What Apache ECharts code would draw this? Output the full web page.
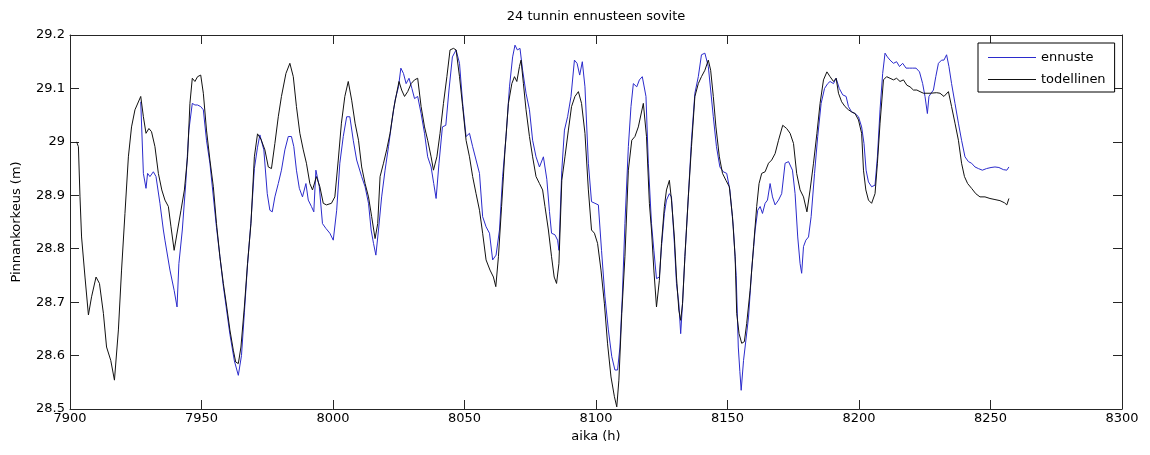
<!DOCTYPE html>
<html>
<head>
<meta charset="utf-8">
<script src="https://cdn.jsdelivr.net/npm/echarts@6/dist/echarts.min.js"></script>
<style>
html,body{margin:0;padding:0;background:#fff;}
#chart{width:1150px;height:455px;}
</style>
</head>
<body>
<div id="chart"></div>
<script>
// ---- data ----
const titleText = '24 tunnin ennusteen sovite';
const xTicks = [7900, 7950, 8000, 8050, 8100, 8150, 8200, 8250, 8300];
const yTicks = [28.5, 28.6, 28.7, 28.8, 28.9, 29.0, 29.1, 29.2];
const seriesNames = ['ennuste', 'todellinen'];

// todellinen (black)
const todX = [7902.5,7903.2,7903.8,7904.4,7905.7,7907.0,7908.2,7909.9,7911.2,7912.7,7913.9,7915.5,7916.9,7918.4,7919.6,7920.9,7922.2,7923.4,7924.7,7926.9,7927.9,7928.9,7930.0,7931.0,7932.3,7933.6,7934.9,
7936.1,7937.4,7938.4,7939.6,7940.9,7942.2,7943.5,7944.7,7945.6,7946.5,7947.5,7948.5,7949.7,7950.7,7951.9,7953.2,7954.5,7955.7,7957.0,7958.3,7959.6,7960.8,7962.1,7963.0,7964.0,7965.0,7966.3,7967.5,7968.8,7970.1,7971.3,7972.6,7974.1,
7975.4,7976.6,7977.9,7979.2,7980.4,7982.1,7983.6,7984.9,7986.1,7987.4,7988.7,7989.9,7991.2,7992.2,7993.7,7995.0,7996.3,7997.5,7999.4,8000.7,8002.0,8003.2,8004.5,8005.8,8007.1,
8008.4,8009.7,8010.9,8012.2,8013.5,8014.7,8016.0,8017.0,8017.9,8019.2,8020.4,8021.7,8023.0,8024.2,8025.1,8026.1,8027.2,8028.4,8029.7,8031.0,8032.2,8033.5,8034.8,8036.0,8037.3,8038.2,8039.5,8040.7,8042.0,8043.3,
8044.5,8045.8,8046.8,8048.1,8049.3,8050.6,8051.9,8053.1,8054.4,8055.7,8056.9,8058.2,8059.7,8061.0,8061.9,8062.9,8064.1,8065.4,8066.7,8068.0,8069.0,8069.9,8070.9,8071.5,8072.4,8073.4,8074.7,8075.9,8077.2,8078.5,8079.7,
8080.6,8081.9,8083.1,8084.1,8085.0,8085.9,8087.0,8088.2,8089.5,8090.7,8092.0,8093.3,8094.5,8095.8,8097.1,8098.3,8099.4,8100.6,8101.9,8103.2,8104.4,8105.7,8107.0,8107.9,8108.7,8109.8,8111.0,8112.3,8113.6,8114.8,8116.1,
8118.0,8119.2,8120.3,8121.1,8122.0,8123.0,8124.1,8124.9,8126.0,8126.8,8127.9,8128.7,8129.8,8130.6,8131.5,8132.2,8132.9,8133.8,8135.1,8136.3,8137.6,8138.9,8140.1,8141.4,8142.7,8143.6,8144.6,8145.6,8146.9,8148.1,8149.4,8150.7,8151.9,
8152.9,8153.5,8154.4,8155.4,8156.4,8157.3,8158.6,8159.9,8161.1,8162.0,8163.0,8164.3,8165.6,8166.8,8168.1,8169.4,8171.0,8172.5,8173.8,8175.1,8176.3,8177.6,8178.9,8180.2,8181.4,8182.7,8184.0,8185.2,8186.5,8187.8,
8189.0,8190.3,8191.3,8192.2,8193.4,8194.7,8196.0,8197.2,8198.5,8199.8,8201.0,8201.7,8202.6,8203.6,8204.8,8206.1,8207.0,8208.0,8209.3,8210.5,8211.8,8213.1,8214.3,8215.6,8216.9,8218.2,8219.4,8220.7,8222.0,8223.2,8224.5,
8227.0,8229.5,8230.8,8232.3,8234.0,8235.2,8236.5,8237.8,8239.0,8240.1,8241.3,8242.8,8244.4,8246.0,8247.9,8249.8,8251.7,8253.6,8255.3,8256.2,8257.0];
const todY = [29.000,28.991,28.897,28.822,28.747,28.676,28.710,28.747,28.735,28.679,28.616,28.591,28.554,28.648,28.760,28.866,28.972,29.028,29.060,29.085,29.047,29.016,29.025,29.019,28.991,28.941,28.910,
28.891,28.879,28.841,28.797,28.835,28.872,28.910,28.972,29.072,29.119,29.113,29.122,29.125,29.091,29.022,28.966,28.916,28.847,28.785,28.735,28.691,28.648,28.610,28.588,28.585,28.616,28.691,28.772,28.847,28.972,29.015,29.005,28.985,
28.953,28.950,28.997,29.047,29.085,29.128,29.147,29.122,29.066,29.016,28.985,28.960,28.922,28.910,28.935,28.916,28.885,28.882,28.885,28.897,28.966,29.035,29.085,29.113,29.078,
29.035,29.003,28.953,28.922,28.897,28.860,28.819,28.847,28.935,28.960,28.985,29.016,29.060,29.091,29.113,29.097,29.085,29.094,29.109,29.116,29.119,29.066,29.028,29.003,28.972,28.947,28.972,29.016,29.072,29.122,
29.172,29.175,29.172,29.122,29.066,29.003,28.972,28.935,28.903,28.872,28.829,28.779,28.760,28.747,28.729,28.785,28.879,28.985,29.072,29.109,29.122,29.113,29.141,29.153,29.109,29.060,29.010,28.972,28.935,28.922,28.910,
28.879,28.835,28.785,28.747,28.735,28.772,28.928,28.972,29.022,29.066,29.085,29.094,29.072,29.016,28.910,28.835,28.829,28.810,28.760,28.697,28.622,28.560,28.523,28.504,28.554,28.679,28.785,28.947,29.003,29.010,29.028,
29.072,29.010,28.885,28.835,28.760,28.691,28.741,28.810,28.879,28.910,28.928,28.891,28.822,28.747,28.685,28.666,28.697,28.785,28.897,28.991,29.085,29.109,29.122,29.134,29.153,29.134,29.085,29.028,28.972,28.941,28.928,28.916,28.860,
28.785,28.679,28.641,28.623,28.626,28.660,28.722,28.804,28.879,28.922,28.941,28.944,28.960,28.966,28.978,29.003,29.031,29.025,29.016,28.997,28.941,28.910,28.897,28.869,28.910,28.960,29.016,29.072,29.116,29.131,
29.122,29.113,29.119,29.091,29.075,29.066,29.060,29.056,29.053,29.041,29.016,28.947,28.910,28.891,28.885,28.903,28.960,29.035,29.116,29.122,29.119,29.116,29.119,29.113,29.116,29.106,29.103,29.097,29.097,29.094,29.091,
29.091,29.092,29.091,29.085,29.094,29.066,29.035,29.003,28.960,28.935,28.922,28.913,28.903,28.897,28.897,28.894,28.892,28.890,28.886,28.882,28.894];

// ennuste (blue)
const ennX = [7926.9,7927.9,7928.9,7929.5,7930.4,7931.7,7932.7,7934.2,7935.5,
7936.1,7938.0,7939.6,7940.7,7941.4,7942.7,7944.0,7945.2,7946.5,7947.5,7948.5,7949.7,7950.7,7951.9,7953.2,7955.7,7958.3,7960.8,7962.5,7964.0,7965.2,7966.3,7967.5,7968.8,7970.1,7971.3,7972.2,
7973.7,7975.0,7976.0,7976.9,7977.9,7979.2,7980.4,7981.7,7983.0,7984.2,7985.1,7986.1,7987.2,7988.4,7989.7,7990.6,7991.8,7992.7,7993.5,7994.8,7996.0,7997.3,7998.8,8000.1,8001.4,8002.6,8003.9,8005.2,8006.4,8007.7,
8009.0,8010.9,8012.2,8013.5,8014.5,8015.4,8016.3,8017.3,8018.5,8019.8,8021.1,8022.3,8023.6,8024.9,8025.8,8026.8,8027.8,8028.9,8030.0,8031.0,8032.2,8033.5,8034.8,8036.0,8037.3,8038.3,8039.2,8040.3,8041.6,8042.9,8044.1,
8045.4,8046.8,8048.1,8049.3,8050.6,8051.9,8053.1,8054.4,8055.7,8056.9,8058.2,8059.5,8060.7,8062.0,8063.3,8064.5,8065.8,8067.1,8068.3,8069.2,8070.1,8071.1,8072.1,8073.4,8074.7,8075.9,8077.2,8078.5,8080.0,
8081.3,8082.3,8083.1,8084.4,8085.4,8085.9,8087.0,8088.0,8089.2,8090.5,8091.8,8092.8,8093.8,8094.8,8095.8,8097.1,8098.3,8099.6,8100.9,8102.1,8103.4,8104.7,8106.0,8107.2,8108.2,8109.1,8110.0,8111.0,8112.3,8113.3,8114.2,8115.5,8116.5,8117.6,
8119.0,8119.9,8121.1,8122.0,8123.0,8124.1,8124.9,8126.0,8126.8,8127.9,8128.7,8129.8,8130.6,8131.5,8132.2,8132.9,8133.8,8135.1,8136.3,8137.6,8138.9,8140.1,8141.4,8142.7,8143.6,8144.6,8145.8,8147.1,8148.4,8149.7,8150.9,8152.2,
8153.3,8154.1,8154.7,8155.2,8156.1,8157.0,8158.0,8159.2,8160.5,8161.5,8162.4,8163.3,8164.3,8165.2,8166.2,8167.1,8168.1,8169.4,8170.6,8171.9,8173.2,8174.7,8175.7,8176.7,8177.6,8178.2,8178.9,8179.8,8180.8,8181.8,8183.1,8184.3,8185.6,8186.9,8188.1,
8189.0,8190.3,8191.3,8192.5,8193.8,8195.1,8196.0,8197.2,8198.5,8199.8,8201.0,8201.9,8202.7,8203.6,8204.8,8206.1,8207.0,8208.0,8209.0,8209.9,8210.8,8211.8,8213.1,8214.3,8215.4,8216.6,8217.9,8219.2,8220.4,8221.7,8223.0,8224.2,8225.1,8226.0,8226.6,8227.4,8228.3,
8229.2,8230.2,8231.4,8232.3,8233.3,8234.2,8235.2,8236.5,8237.8,8239.0,8240.3,8241.6,8242.8,8244.1,8245.4,8246.9,8248.5,8250.2,8251.7,8253.2,8254.9,8256.2,8257.0];
const ennY = [29.075,28.941,28.913,28.941,28.935,28.944,28.935,28.885,28.835,
28.816,28.760,28.722,28.691,28.772,28.835,28.922,29.022,29.072,29.069,29.069,29.066,29.060,29.003,28.960,28.840,28.730,28.640,28.590,28.563,28.600,28.680,28.770,28.850,28.950,28.990,29.013,
28.985,28.903,28.872,28.869,28.897,28.922,28.947,28.985,29.010,29.010,28.991,28.947,28.913,28.897,28.922,28.891,28.879,28.869,28.947,28.916,28.847,28.838,28.829,28.816,28.872,28.960,29.010,29.047,29.047,29.003,
28.966,28.935,28.916,28.885,28.835,28.810,28.788,28.835,28.897,28.947,28.991,29.035,29.078,29.103,29.138,29.128,29.109,29.119,29.100,29.081,29.085,29.053,29.016,28.972,28.953,28.922,28.894,28.960,29.028,29.031,29.097,
29.159,29.172,29.147,29.072,29.010,29.016,28.991,28.966,28.941,28.860,28.841,28.829,28.779,28.788,28.835,28.935,29.010,29.103,29.159,29.181,29.172,29.175,29.134,29.091,29.060,29.003,28.972,28.953,28.972,
28.930,28.870,28.829,28.826,28.816,28.797,28.947,29.022,29.047,29.085,29.153,29.147,29.125,29.150,29.103,28.960,28.888,28.885,28.882,28.797,28.710,28.648,28.598,28.573,28.573,28.616,28.710,28.847,28.991,29.066,29.109,29.103,29.116,29.122,
29.085,28.960,28.847,28.797,28.744,28.747,28.804,28.866,28.891,28.903,28.897,28.810,28.735,28.697,28.641,28.697,28.785,28.897,29.003,29.091,29.122,29.163,29.166,29.141,29.097,29.047,28.991,28.953,28.944,28.941,28.910,28.841,
28.750,28.616,28.570,28.535,28.591,28.629,28.672,28.760,28.835,28.872,28.879,28.866,28.885,28.891,28.922,28.897,28.882,28.891,28.903,28.960,28.963,28.947,28.903,28.822,28.772,28.754,28.804,28.816,28.822,28.860,28.941,29.010,29.072,29.100,29.109,
29.113,29.109,29.119,29.100,29.088,29.085,29.066,29.056,29.053,29.047,29.028,28.997,28.947,28.925,28.916,28.919,28.972,29.060,29.128,29.166,29.159,29.153,29.147,29.150,29.141,29.147,29.138,29.138,29.138,29.138,29.131,29.109,29.085,29.053,29.085,29.091,29.097,
29.122,29.147,29.153,29.153,29.163,29.141,29.109,29.072,29.035,29.003,28.972,28.963,28.960,28.953,28.950,28.947,28.950,28.952,28.953,28.952,28.948,28.947,28.953];

// ---- chart ----
const zip = (xs, ys) => xs.map((x, i) => [x, ys[i]]);
const FONT = 'DejaVu Sans';
const FS = 13;
const axisCol = '#262626';
const blue = '#2b2bcc';
const black = '#111111';

const chart = echarts.init(document.getElementById('chart'), null, {renderer: 'canvas'});
const xCommon = {
  type: 'value', min: xTicks[0], max: xTicks[xTicks.length - 1], interval: xTicks[1] - xTicks[0],
  splitLine: {show: false},
  axisLine: {show: true, onZero: false, lineStyle: {color: axisCol, width: 1}},
  axisTick: {show: true, inside: true, length: 9, lineStyle: {color: axisCol}}
};
const yCommon = {
  type: 'value', min: yTicks[0], max: yTicks[yTicks.length - 1], interval: 0.1,
  splitLine: {show: false},
  axisLine: {show: true, onZero: false, lineStyle: {color: axisCol, width: 1}},
  axisTick: {show: true, inside: true, length: 9, lineStyle: {color: axisCol}}
};
chart.setOption({
  animation: false,
  backgroundColor: '#ffffff',
  textStyle: {fontFamily: FONT},
  title: {
    text: titleText, left: 596, top: 10, padding: 0, textAlign: 'center',
    textStyle: {fontFamily: FONT, fontSize: FS, fontWeight: 'normal', color: '#000'}
  },
  legend: {
    data: seriesNames.map(n => ({name: n, icon: 'rect'})),
    orient: 'vertical', left: 978, top: 43,
    padding: [8, 9, 6, 10], itemGap: 9, itemWidth: 48, itemHeight: 1,
    borderColor: '#000', borderWidth: 1, backgroundColor: '#fff', borderRadius: 0,
    textStyle: {fontFamily: FONT, fontSize: FS, color: '#000'}
  },
  grid: {left: 70, top: 35, right: 28, bottom: 46, show: false},
  xAxis: [
    Object.assign({}, xCommon, {
      position: 'bottom', name: 'aika (h)', nameLocation: 'middle', nameGap: 21,
      nameTextStyle: {fontFamily: FONT, fontSize: FS, color: '#000'},
      axisLabel: {show: true, margin: 3, color: '#000', fontFamily: FONT, fontSize: FS,
        formatter: v => String(v)}
    }),
    Object.assign({}, xCommon, {position: 'top', axisLabel: {show: false}})
  ],
  yAxis: [
    Object.assign({}, yCommon, {
      position: 'left', name: 'Pinnankorkeus (m)', nameLocation: 'middle', nameGap: 47,
      nameTextStyle: {fontFamily: FONT, fontSize: FS, color: '#000'},
      axisLabel: {show: true, margin: 5, color: '#000', fontFamily: FONT, fontSize: FS,
        formatter: v => String(Math.round(v * 10) / 10)}
    }),
    Object.assign({}, yCommon, {position: 'right', axisLabel: {show: false}})
  ],
  series: [
    {name: seriesNames[0], type: 'line', data: zip(ennX, ennY), showSymbol: false, symbol: 'none',
      lineStyle: {color: blue, width: 1}, itemStyle: {color: blue}, z: 2},
    {name: seriesNames[1], type: 'line', data: zip(todX, todY), showSymbol: false, symbol: 'none',
      lineStyle: {color: black, width: 1}, itemStyle: {color: black}, z: 3}
  ]
});
</script>
</body>
</html>
